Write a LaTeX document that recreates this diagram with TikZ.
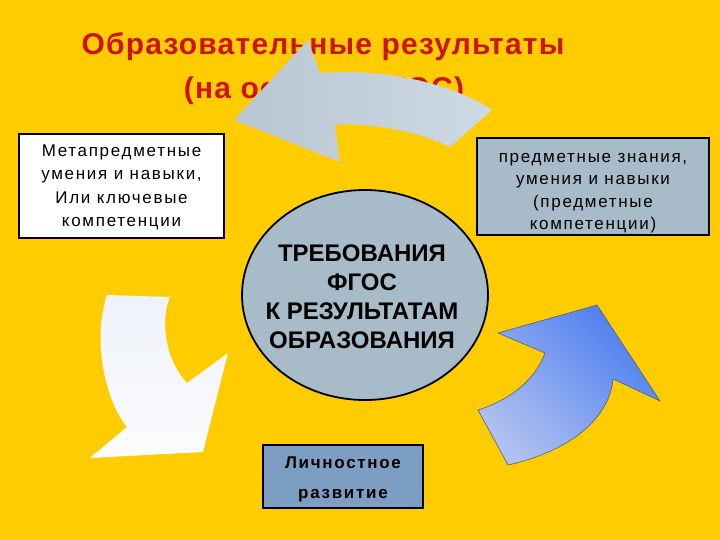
\documentclass[tikz,border=0pt]{standalone}
\usepackage{fontspec}
\setmainfont{Liberation Sans}
\newfontfamily\titlefont[LetterSpace=4]{Liberation Sans}
\newfontfamily\boxfont[LetterSpace=10]{Liberation Sans}
\newfontfamily\bottomfont[LetterSpace=10]{Liberation Sans}
\usetikzlibrary{shapes.geometric}
\definecolor{bgyellow}{RGB}{255,204,0}
\definecolor{titlered}{RGB}{204,20,20}
\definecolor{greyblue}{RGB}{168,187,200}
\definecolor{steelbox}{RGB}{125,158,195}
\definecolor{arrowgreyA}{RGB}{184,198,210}
\definecolor{arrowgreyB}{RGB}{206,218,227}
\definecolor{blueA}{RGB}{176,192,240}
\definecolor{blueB}{RGB}{76,126,240}
\definecolor{blueedge}{RGB}{80,96,130}
\definecolor{whiteA}{RGB}{238,242,250}
\definecolor{whiteB}{RGB}{252,252,254}
\tikzset{
  titletext/.style={text=titlered, font=\titlefont\bfseries\fontsize{30}{36}\selectfont, inner sep=0pt},
  framebox/.style={draw=black, line width=1.6pt, rectangle, inner sep=0pt},
  boxtext/.style={align=center, font=\boxfont\fontsize{17}{23.5}\selectfont, inner sep=0pt, text=black},
}
\begin{document}
\begin{tikzpicture}[x=1pt,y=-1pt]
\useasboundingbox (0,0) rectangle (720,540);
\fill[bgyellow] (0,0) rectangle (720,540);

% title
\node[titletext] (t1) at (323,47) {Образовательные результаты};
\node[titletext] (t2) at (324,91) {(на основе ФГОС)};

% top curved arrow (grey)
\path[shading=axis, left color=arrowgreyA, right color=arrowgreyB, shading angle=90]
  (234,120) -- (308,40) -- (320,73)
  .. controls (380,68) and (450,82) .. (492,110)
  -- (450,147)
  .. controls (420,132) and (370,122) .. (335,125)
  -- (340,162) -- cycle;

% left box
\node[framebox, fill=white, minimum width=205pt, minimum height=104pt] (lbox) at (121.5,186) {};
\node[boxtext] (ltext) at (121.5,187.5) {Метапредметные\\умения и навыки,\\Или ключевые\\компетенции};

% right box
\node[framebox, fill=greyblue, minimum width=232pt, minimum height=97pt] (rbox) at (593,186.5) {};
\node[boxtext, font=\boxfont\fontsize{17}{22.5}\selectfont] (rtext) at (593,193) {предметные знания,\\умения и навыки\\(предметные\\компетенции)};

% central ellipse
\node[ellipse, draw=black, line width=1.8pt, fill=greyblue, minimum width=246pt, minimum height=210pt, inner sep=0pt] (core) at (365,295) {};
\node[align=center, font=\bfseries\fontsize{24}{29}\selectfont, inner sep=0pt] (coretext) at (362,297) {ТРЕБОВАНИЯ\\ФГОС\\К РЕЗУЛЬТАТАМ\\ОБРАЗОВАНИЯ};

% bottom box
\node[framebox, fill=steelbox, minimum width=160pt, minimum height=63pt] (bbox) at (343,476.5) {};
\node[align=center, font=\bottomfont\bfseries\fontsize{17}{30}\selectfont, inner sep=0pt] (btext) at (343,479) {Личностное\\развитие};

% bottom-left white arrow
\path[shading=axis, top color=whiteA, bottom color=whiteB]
  (107,295) -- (170,297)
  .. controls (160,320) and (165,360) .. (187,383)
  -- (228,353) -- (203,452) -- (90,458) -- (127,427)
  .. controls (105,400) and (92,340) .. (107,295) -- cycle;

% bottom-right blue arrow
\path[draw=blueedge, line width=0.6pt, shading=axis, bottom color=blueA, top color=blueB, shading angle=-45]
  (478,410) .. controls (510,400) and (535,380) .. (545,353)
  -- (498,333) -- (597,305) -- (660,401) -- (613,379)
  .. controls (610,415) and (575,450) .. (508,465) -- cycle;
\end{tikzpicture}
\end{document}
